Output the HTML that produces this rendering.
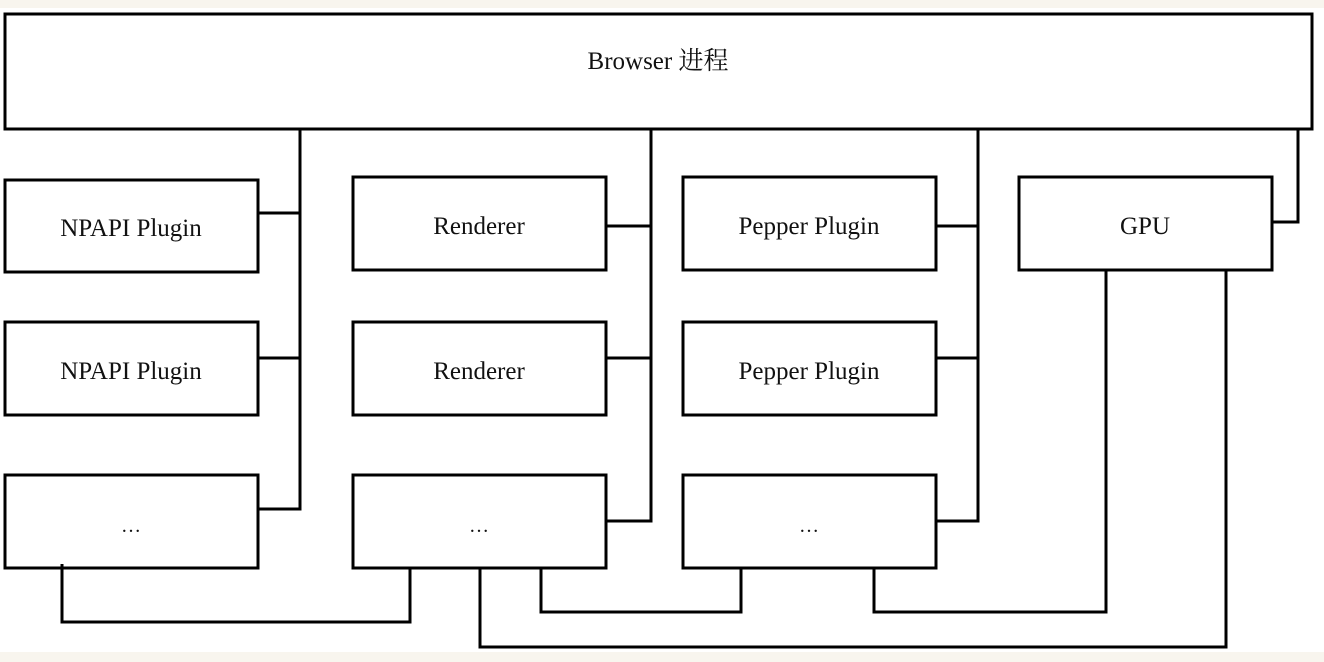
<!DOCTYPE html>
<html><head><meta charset="utf-8"><style>
html,body{margin:0;padding:0;background:#f8f5ee;}
svg{display:block}
text{font-family:"Liberation Serif","Noto Serif CJK SC",serif;font-size:25px;fill:#111;}
</style></head><body>
<svg width="1324" height="662" viewBox="0 0 1324 662">
<rect x="0" y="8" width="1324" height="644" fill="#fff"/>
<g fill="none" stroke="#000" stroke-width="3">
<rect x="5" y="14" width="1307" height="115"/>
<rect x="5" y="180" width="253" height="92"/>
<rect x="353" y="177" width="253" height="93"/>
<rect x="683" y="177" width="253" height="93"/>
<rect x="1019" y="177" width="253" height="93"/>
<rect x="5" y="322" width="253" height="93"/>
<rect x="353" y="322" width="253" height="93"/>
<rect x="683" y="322" width="253" height="93"/>
<rect x="5" y="475" width="253" height="93"/>
<rect x="353" y="475" width="253" height="93"/>
<rect x="683" y="475" width="253" height="93"/>
<polyline points="300,129 300,509 258,509"/>
<line x1="258" y1="213" x2="300" y2="213"/>
<line x1="258" y1="358" x2="300" y2="358"/>
<polyline points="651,129 651,521 606,521"/>
<line x1="606" y1="226" x2="651" y2="226"/>
<line x1="606" y1="358" x2="651" y2="358"/>
<polyline points="978,129 978,521 936,521"/>
<line x1="936" y1="226" x2="978" y2="226"/>
<line x1="936" y1="358" x2="978" y2="358"/>
<polyline points="1298,129 1298,222 1272,222"/>
<polyline points="62,564 62,622 410,622 410,568"/>
<polyline points="480,568 480,647 1226,647 1226,270"/>
<polyline points="541,568 541,612 741,612 741,568"/>
<polyline points="874,568 874,612 1106,612 1106,270"/>
</g>
<g text-anchor="middle">
<text x="658" y="69">Browser 进程</text>
<text x="131" y="236">NPAPI Plugin</text>
<text x="479" y="234">Renderer</text>
<text x="809" y="234">Pepper Plugin</text>
<text x="1145" y="234">GPU</text>
<text x="131" y="379">NPAPI Plugin</text>
<text x="479" y="379">Renderer</text>
<text x="809" y="379">Pepper Plugin</text>
<text x="131" y="532" style="font-size:20px">…</text>
<text x="479" y="532" style="font-size:20px">…</text>
<text x="809" y="532" style="font-size:20px">…</text>
</g>
</svg>
</body></html>
